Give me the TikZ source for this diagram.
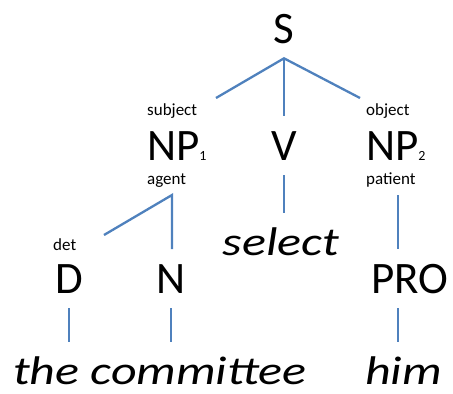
\documentclass[tikz,border=0pt]{standalone}
\usepackage{fontspec}
\setmainfont{Carlito}
\newfontfamily\wordfont{Carlito}[FakeStretch=1.25]
\usepackage{xcolor}
\usepackage{tikz}
\definecolor{branch}{HTML}{4F81BD}

\begin{document}
\begin{tikzpicture}[
  x=1pt, y=-1pt,
  cat/.style={inner sep=0pt, outer ysep=15pt, font=\fontsize{45}{45}\selectfont},
  role/.style={inner sep=0pt, anchor=base west, font=\fontsize{17}{17}\selectfont},
  word/.style={inner sep=0pt, text depth=0pt,
               font=\fontsize{40}{40}\wordfont\itshape},
  edge/.style={branch, line width=2.3pt},
  toword/.style={edge, shorten >=14pt}
]
  \useasboundingbox (0,0) rectangle (453,394);

  % categories
  \node[cat, anchor=base] (S) at (284,43) {S};
  \node[cat, anchor=base west] (np1) at (147,160) {NP{\fontsize{14}{14}\selectfont 1}};
  \node[cat, anchor=base] (V) at (284,160) {V};
  \node[cat, anchor=base west] (np2) at (366,160) {NP{\fontsize{14}{14}\selectfont 2}};
  \node[cat, anchor=base] (D) at (69,293) {D};
  \node[cat, anchor=base] (N) at (171,293) {N};
  \node[cat, anchor=base] (PRO) at (410,293) {PRO};

  % roles
  \node[role] (subj)  at (147,115) {subject};
  \node[role] (agent) at (147,184) {agent};
  \node[role] (obj)   at (366,115) {object};
  \node[role] (pat)   at (366,184) {patient};
  \node[role] (det)   at (53,250)  {det};

  % words
  \node[word, anchor=base] (select) at (281,255) {select};
  \node[word, anchor=base west] (comm) at (13,384) {the committee};
  \node[word, anchor=base west] (him) at (365,384) {him};

  % branch points
  \coordinate (np1-top)  at (216,98);
  \coordinate (np2-top)  at (360,98);
  \coordinate (np1-foot) at (172,195);
  \coordinate (det-top)  at (104,235);
  \coordinate (np2-foot) at (398,195);

  \draw[edge] (np1-top) -- (S.south) -- (np2-top);
  \draw[edge] (S.south) -- (V.north);
  \draw[toword] (V.south) -- (V.south |- select.north);
  \draw[edge] (det-top) -- (np1-foot) -- (np1-foot |- N.north);
  \draw[edge] (np2-foot) -- (np2-foot |- PRO.north);
  \draw[toword] (D.south) -- (D.south |- comm.north);
  \draw[toword] (N.south) -- (N.south |- comm.north);
  \draw[toword] (np2-foot |- PRO.south) -- (np2-foot |- him.north);
\end{tikzpicture}
\end{document}
